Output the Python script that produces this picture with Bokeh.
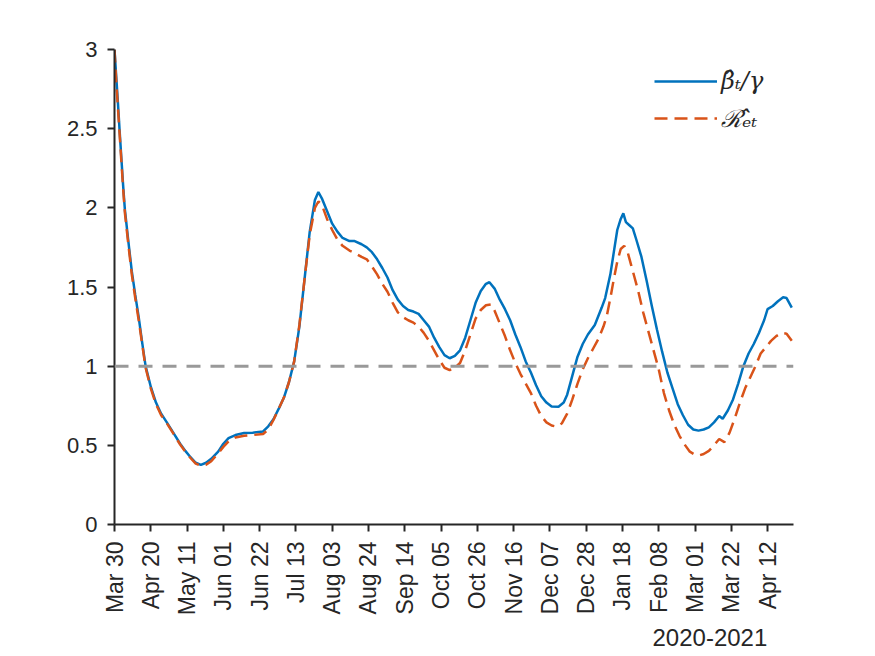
import math
from bokeh.plotting import figure
from bokeh.models import Range1d, FixedTicker, Legend, LegendItem, Span, Title
from bokeh.embed import file_html
from bokeh.resources import INLINE

# ---- data (day offsets from 2020-03-30) ----
beta_days = [0, 1, 2, 3, 4, 5, 6, 8, 10, 12, 14, 16, 18, 21, 24, 27, 30, 34, 38, 41, 44, 47, 50, 53, 56,
             60, 63, 66, 70, 75, 80, 86, 89, 92, 95, 98, 101, 104, 107, 110, 113, 116, 118, 120, 123,
             126, 129, 132, 136, 139, 143, 146, 149, 152, 155, 158, 161, 164, 167, 170, 173, 176, 179,
             182, 185, 188, 191, 194, 197, 200, 203, 206, 209, 212, 215, 217, 220, 223, 226, 229, 232,
             235, 238, 241, 244, 247, 250, 253, 257, 260, 262, 265, 268, 271, 274, 278, 282, 284, 287,
             289, 291, 293, 294.5, 296, 298, 300, 302, 305, 308, 311, 314, 317, 320, 323, 326, 329, 332,
             335, 338, 341, 344, 347, 350, 352, 355, 358, 361, 364, 367, 370, 373, 376, 378, 381, 384,
             387, 389, 392]
beta_vals = [3.00, 2.83, 2.66, 2.48, 2.31, 2.14, 1.99, 1.79, 1.60, 1.45, 1.31, 1.15, 1.00, 0.87, 0.77,
             0.70, 0.65, 0.58, 0.51, 0.465, 0.425, 0.39, 0.377, 0.39, 0.415, 0.46, 0.51, 0.545, 0.565,
             0.578, 0.58, 0.588, 0.62, 0.665, 0.73, 0.80, 0.90, 1.03, 1.25, 1.55, 1.85, 2.05, 2.10, 2.06,
             1.98, 1.90, 1.85, 1.81, 1.79, 1.79, 1.77, 1.75, 1.72, 1.675, 1.62, 1.56, 1.48, 1.42, 1.38,
             1.355, 1.345, 1.33, 1.29, 1.25, 1.18, 1.12, 1.07, 1.05, 1.065, 1.10, 1.18, 1.29, 1.40, 1.475,
             1.52, 1.53, 1.49, 1.42, 1.36, 1.29, 1.20, 1.12, 1.03, 0.96, 0.88, 0.81, 0.77, 0.745, 0.744,
             0.77, 0.82, 0.94, 1.06, 1.14, 1.20, 1.26, 1.37, 1.43, 1.58, 1.72, 1.86, 1.93, 1.965, 1.91,
             1.89, 1.87, 1.80, 1.69, 1.54, 1.38, 1.23, 1.09, 0.96, 0.86, 0.76, 0.69, 0.63, 0.60, 0.593,
             0.60, 0.614, 0.645, 0.685, 0.668, 0.72, 0.79, 0.89, 1.00, 1.08, 1.14, 1.21, 1.29, 1.36,
             1.38, 1.41, 1.435, 1.43, 1.37]

r_days = [0, 1, 2, 3, 4, 5, 6, 8, 10, 12, 14, 16, 18, 21, 24, 27, 30, 34, 38, 41, 44, 47, 50, 53, 56,
          60, 63, 66, 70, 75, 80, 86, 89, 92, 95, 98, 101, 104, 107, 110, 113, 116, 118, 120, 123, 126,
          129, 132, 136, 139, 143, 146, 149, 152, 155, 158, 161, 164, 167, 170, 173, 176, 179, 182, 185,
          188, 191, 194, 197, 200, 203, 206, 209, 212, 215, 218, 220, 223, 226, 229, 232, 235, 238, 241,
          244, 247, 250, 253, 256, 259, 262, 265, 268, 271, 274, 277, 280, 283, 285, 287, 289, 291, 293,
          295, 297, 299, 301, 303, 306, 309, 312, 315, 318, 321, 324, 327, 330, 333, 336, 338, 341, 344,
          347, 350, 353, 356, 359, 362, 365, 368, 371, 374, 377, 380, 383, 386, 389, 392]
r_vals = [3.00, 2.80, 2.63, 2.46, 2.29, 2.12, 1.97, 1.77, 1.58, 1.43, 1.29, 1.14, 0.99, 0.86, 0.76, 0.69,
          0.645, 0.575, 0.505, 0.46, 0.42, 0.385, 0.372, 0.378, 0.40, 0.45, 0.49, 0.525, 0.55, 0.56, 0.565,
          0.572, 0.60, 0.66, 0.73, 0.80, 0.90, 1.03, 1.26, 1.55, 1.83, 2.00, 2.04, 2.02, 1.93, 1.86, 1.80,
          1.76, 1.73, 1.715, 1.69, 1.675, 1.63, 1.58, 1.52, 1.47, 1.40, 1.34, 1.31, 1.29, 1.275, 1.25,
          1.21, 1.16, 1.10, 1.04, 0.99, 0.975, 0.99, 1.02, 1.10, 1.20, 1.30, 1.355, 1.385, 1.39, 1.35,
          1.27, 1.19, 1.10, 1.02, 0.95, 0.89, 0.83, 0.75, 0.685, 0.645, 0.625, 0.618, 0.64, 0.70, 0.79,
          0.89, 0.98, 1.05, 1.11, 1.17, 1.25, 1.32, 1.43, 1.55, 1.66, 1.74, 1.76, 1.72, 1.64, 1.56, 1.48,
          1.34, 1.22, 1.10, 0.98, 0.83, 0.72, 0.63, 0.56, 0.505, 0.46, 0.44, 0.435, 0.445, 0.465, 0.50,
          0.54, 0.52, 0.58, 0.67, 0.77, 0.86, 0.93, 1.00, 1.08, 1.12, 1.16, 1.19, 1.21, 1.205, 1.16]

x_tick_days = [0, 21, 42, 63, 84, 105, 126, 147, 168, 189, 210, 231, 252, 273, 294, 315, 336, 357, 378]
x_tick_labels = ["Mar 30", "Apr 20", "May 11", "Jun 01", "Jun 22", "Jul 13", "Aug 03", "Aug 24",
                 "Sep 14", "Oct 05", "Oct 26", "Nov 16", "Dec 07", "Dec 28", "Jan 18", "Feb 08",
                 "Mar 01", "Mar 22", "Apr 12"]
y_ticks = [0, 0.5, 1, 1.5, 2, 2.5, 3]
y_tick_labels = ["0", "0.5", "1", "1.5", "2", "2.5", "3"]
threshold = 1.0
x_axis_title = "2020-2021"
series_names = ["β̂ₜ/γ", "ℛ̂ₑₜ"]

AX = "#262626"
FONT = "Liberation Sans"

p = figure(width=867, height=656, output_backend="svg", toolbar_location=None,
           x_range=Range1d(0, 393), y_range=Range1d(0, 3),
           min_border_left=114, min_border_right=74, min_border_top=49, min_border_bottom=132)
p.outline_line_color = None
p.xgrid.visible = False
p.ygrid.visible = False
p.background_fill_color = "white"
p.border_fill_color = "white"

for ax in (p.xaxis[0], p.yaxis[0]):
    ax.axis_line_color = AX
    ax.axis_line_width = 2
    ax.major_tick_line_color = AX
    ax.major_tick_line_width = 2
    ax.major_tick_in = 0
    ax.major_tick_out = 7
    ax.minor_tick_line_color = None
    ax.major_label_text_color = AX
    ax.major_label_text_font = FONT
    ax.major_label_standoff = 10

p.xaxis.ticker = FixedTicker(ticks=x_tick_days)
p.xaxis.major_label_overrides = {d: l for d, l in zip(x_tick_days, x_tick_labels)}
p.xaxis.major_label_orientation = math.pi / 2
p.xaxis.major_label_text_font_size = "23px"
p.yaxis.ticker = FixedTicker(ticks=y_ticks)
p.yaxis.major_label_overrides = {t: l for t, l in zip(y_ticks, y_tick_labels)}
p.yaxis.major_label_text_font_size = "22px"

p.add_layout(Span(location=threshold, dimension="width", line_color="#999999",
                  line_width=3, line_dash="14 10"))

l1 = p.line(beta_days, beta_vals, line_color="#0072BD", line_width=2.5)
l2 = p.line(r_days, r_vals, line_color="#D95319", line_width=2.5, line_dash="13 7")

legend = Legend(items=[LegendItem(label=series_names[0], renderers=[l1]),
                       LegendItem(label=series_names[1], renderers=[l2])],
                location=(540, 390), border_line_color=None, background_fill_alpha=0,
                padding=0, spacing=5, glyph_width=63, glyph_height=30, label_height=30,
                label_standoff=4, label_text_font="DejaVu Serif", label_text_font_style="italic",
                label_text_font_size="24px", label_text_color=AX)
p.add_layout(legend)

title = Title(text=x_axis_title, align="left", offset=538, text_font=FONT,
              text_font_size="24px", text_font_style="normal", text_color=AX)
if "standoff" in title.properties():
    title.standoff = 16
p.add_layout(title, "below")

open("out.html", "w").write(file_html(p, INLINE))
